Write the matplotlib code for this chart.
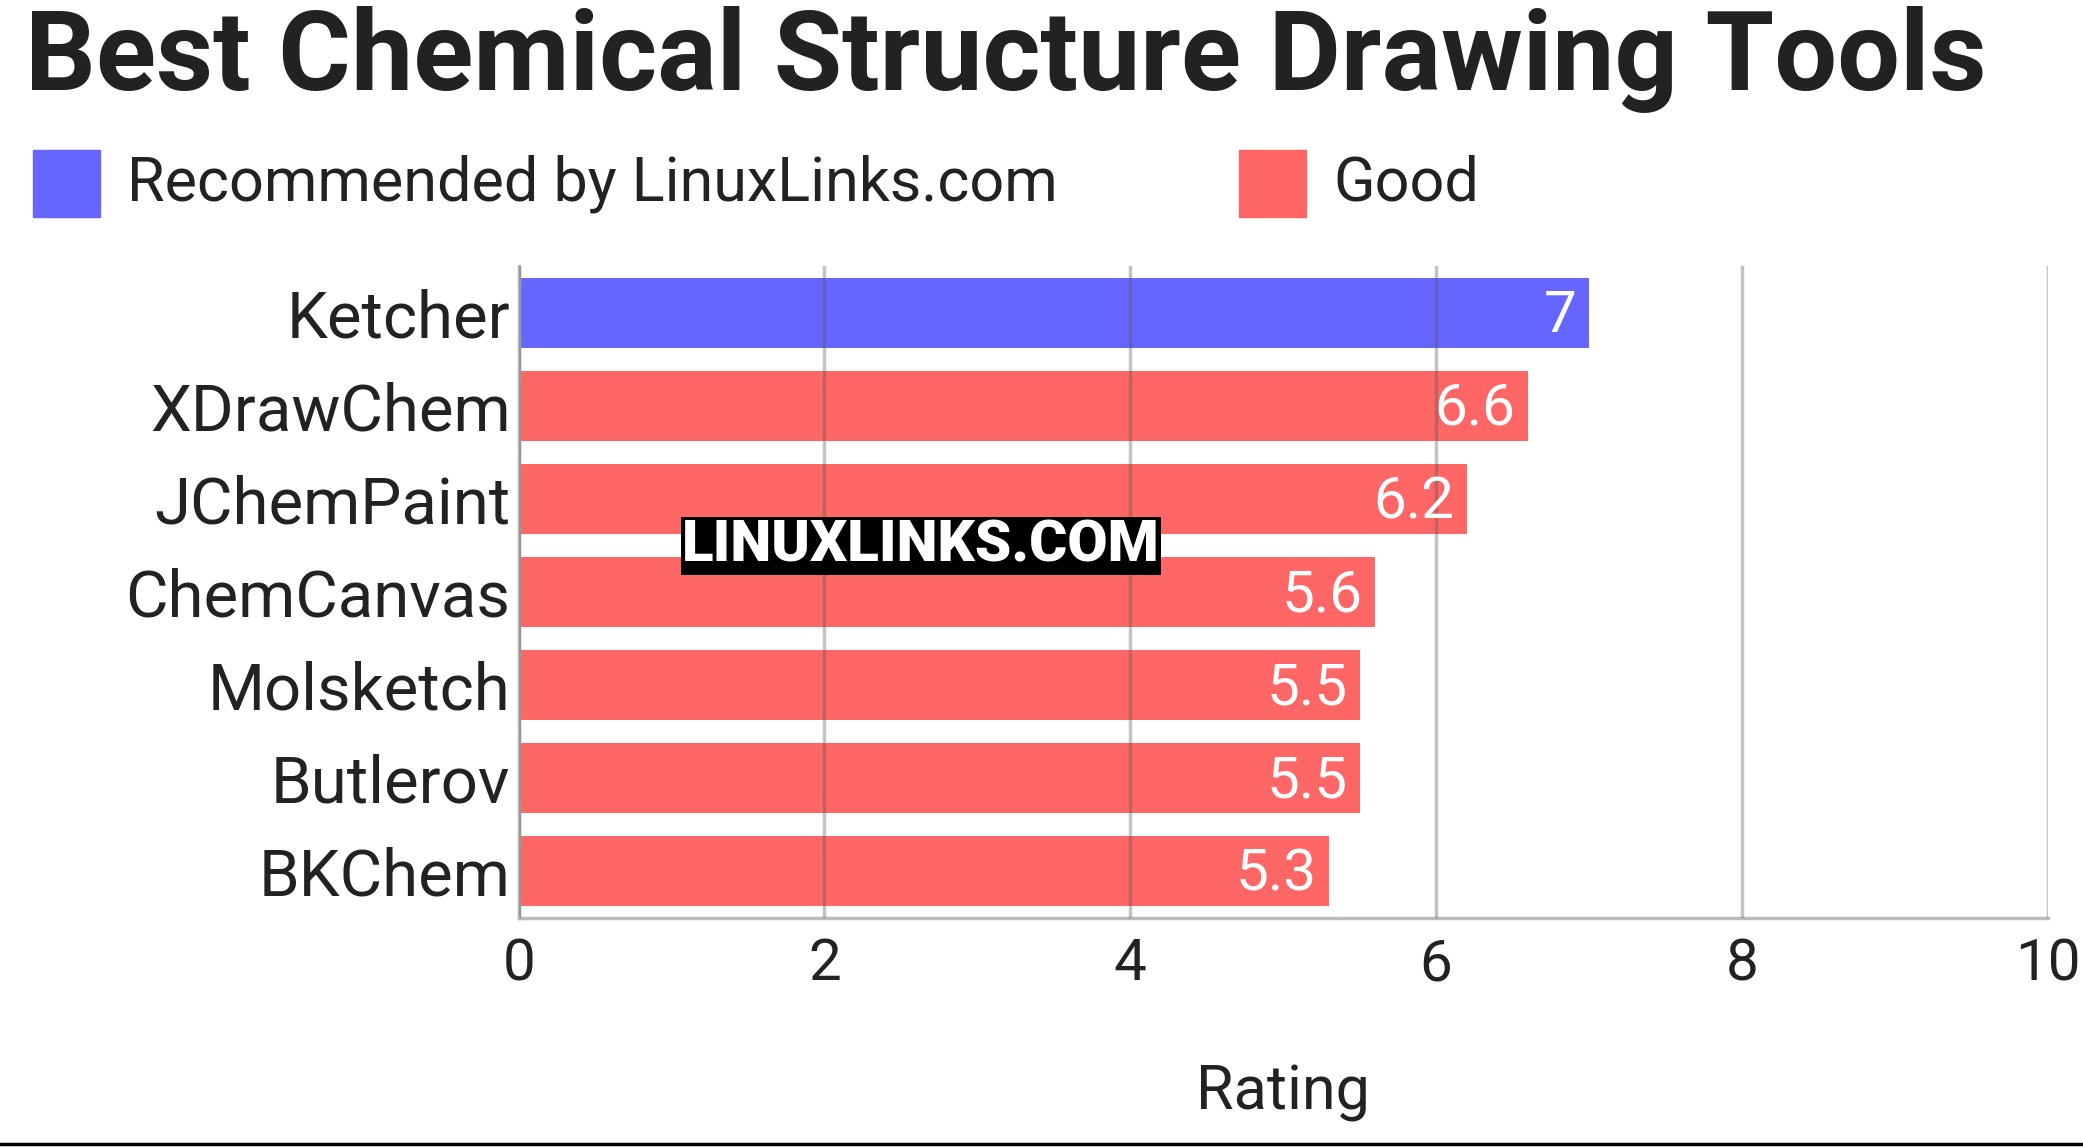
import matplotlib.pyplot as plt
from matplotlib.patches import Rectangle
from matplotlib.lines import Line2D

plt.rcParams['font.family'] = ['Roboto', 'DejaVu Sans']

tools = ["Ketcher", "XDrawChem", "JChemPaint", "ChemCanvas", "Molsketch", "Butlerov", "BKChem"]
ratings = [7, 6.6, 6.2, 5.6, 5.5, 5.5, 5.3]
recommended = [True, False, False, False, False, False, False]
labels = ["7", "6.6", "6.2", "5.6", "5.5", "5.5", "5.3"]

BLUE = "#6666ff"
RED = "#ff6666"

fig = plt.figure(figsize=(20.83, 11.47), dpi=100)
ax = fig.add_axes([0.249, 0.2, 0.734, 0.568])

ypos = list(range(len(tools)))
colors = [BLUE if r else RED for r in recommended]
ax.barh(ypos, ratings, height=0.75, color=colors, zorder=1)
for y, v, t in zip(ypos, ratings, labels):
    ax.text(v - 0.08, y + 0.04, t, ha="right", va="center", color="white", fontsize=42, zorder=3)

ax.set_ylim(len(tools) - 0.5, -0.5)
ax.set_xlim(0, 10)
ax.set_yticks(ypos)
ax.set_yticklabels(tools, fontsize=47, color="#222222")
ax.set_xticks([0, 2, 4, 6, 8, 10])
ax.tick_params(axis="x", labelsize=42, length=0, pad=14, colors="#222222")
ax.tick_params(axis="y", length=0, pad=6)
ax.grid(axis="x", color="#555555", alpha=0.35, linewidth=2.5, zorder=2)
ax.set_axisbelow(False)
for s in ["top", "right"]:
    ax.spines[s].set_visible(False)
for s in ["left", "bottom"]:
    ax.spines[s].set_color("#bbbbbb")
    ax.spines[s].set_linewidth(2.5)
ax.set_xlabel("Rating", fontsize=44, labelpad=52, color="#222222")

fig.text(0.012, 0.948, "Best Chemical Structure Drawing Tools", fontsize=80,
         fontweight="bold", color="#222222", va="center", ha="left")

# legend
fig.patches.append(Rectangle((0.016, 0.811), 0.032, 0.058, transform=fig.transFigure,
                             color=BLUE))
fig.text(0.061, 0.84, "Recommended by LinuxLinks.com", fontsize=44, va="center", color="#222222")
fig.patches.append(Rectangle((0.595, 0.811), 0.032, 0.058, transform=fig.transFigure,
                             color=RED))
fig.text(0.640, 0.84, "Good", fontsize=44, va="center", color="#222222")

fig.text(0.442, 0.524, "LINUXLINKS.COM", fontsize=42, fontweight="heavy", color="white",
         ha="center", va="center",
         bbox=dict(facecolor="black", edgecolor="none", pad=1), zorder=5)

fig.add_artist(Line2D([0, 1], [0.003, 0.003], color="black", linewidth=2.5,
                      transform=fig.transFigure))

fig.savefig("out.png", dpi=100)
